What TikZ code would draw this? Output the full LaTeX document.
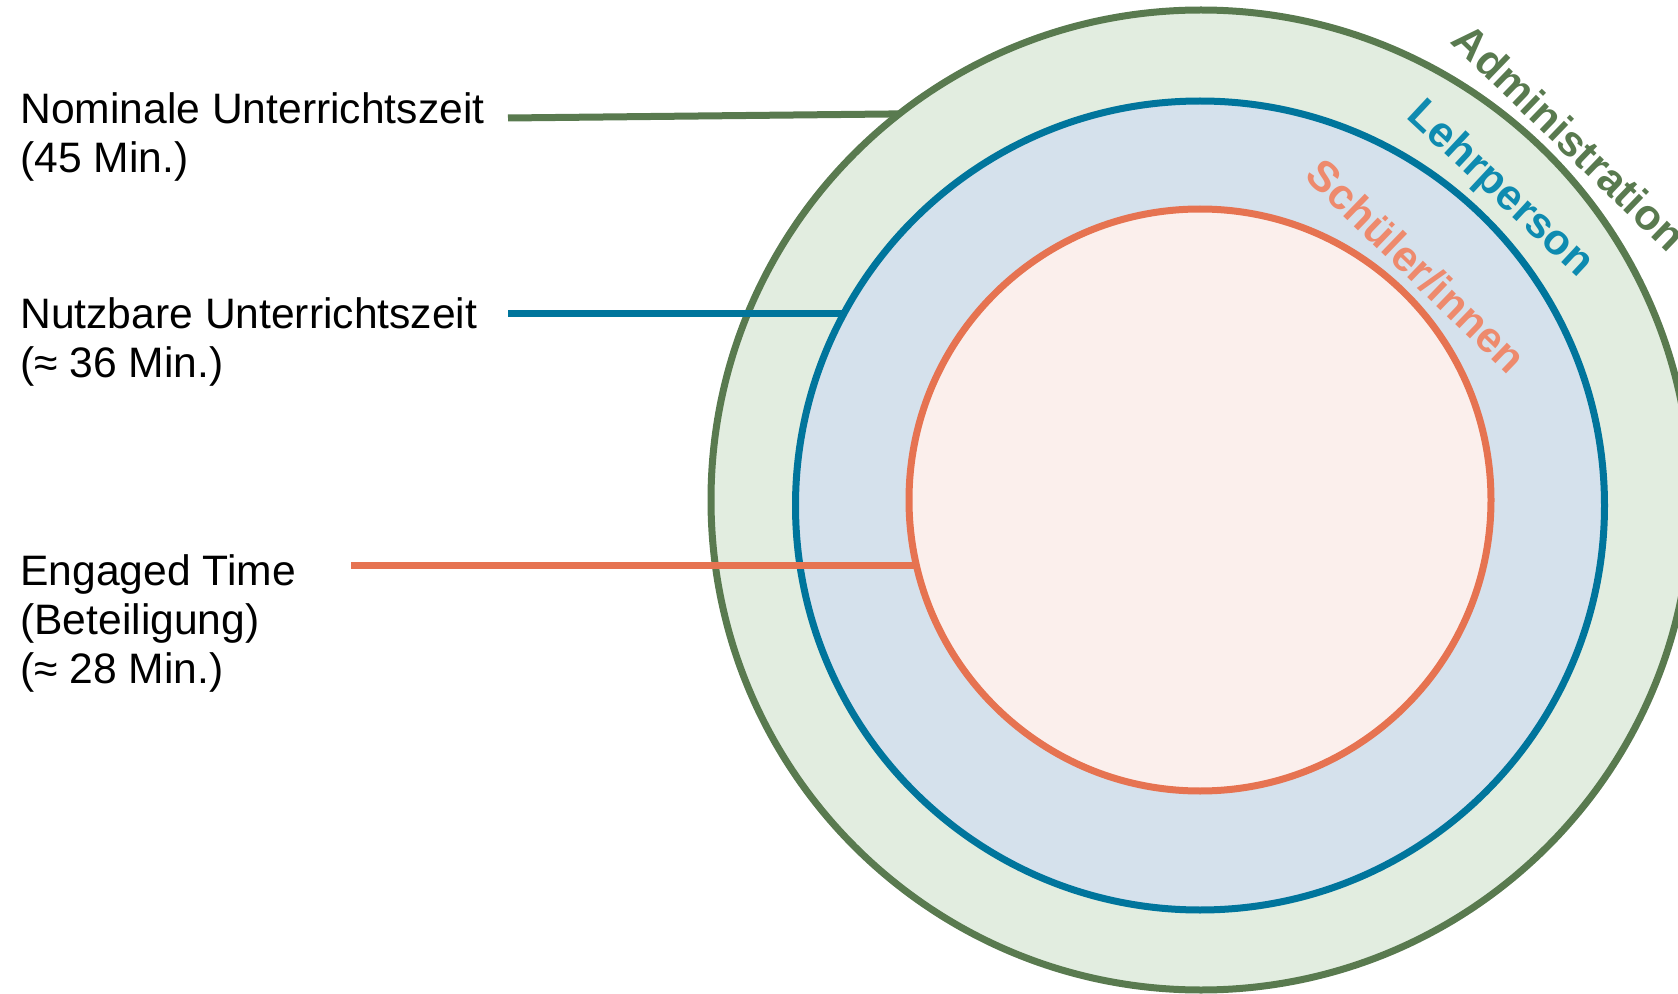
\documentclass[tikz,border=0pt]{standalone}
\usepackage{fontspec}
\setmainfont{Liberation Sans}
\usepackage{xcolor}
\usepackage{tikz}
\definecolor{admline}{RGB}{89,122,79}
\definecolor{admfill}{RGB}{226,237,224}
\definecolor{lehrline}{RGB}{0,117,156}
\definecolor{lehrfill}{RGB}{213,225,236}
\definecolor{lehrtext}{RGB}{14,139,176}
\definecolor{schline}{RGB}{230,115,81}
\definecolor{schfill}{RGB}{251,239,236}
\definecolor{schtext}{RGB}{238,138,109}

\begin{document}
\begin{tikzpicture}[x=0.5pt, y=0.5pt, font=\fontsize{21.3pt}{24.5pt}\selectfont,
  ring/.style={circle, line width=3.5pt, inner sep=0pt, outer sep=0pt},
  lbl/.style={anchor=base west, align=left, inner sep=0pt},
  ringtxt/.style={anchor=base, inner sep=0pt, font=\fontsize{21.5pt}{24.5pt}\selectfont\bfseries},
  conn/.style={line width=3.5pt}]
\useasboundingbox (0,0) rectangle (1678,993);
\node[ring, draw=admline, fill=admfill, minimum size=490pt] (admin) at (1201,493) {};
\node[ring, draw=lehrline, fill=lehrfill, minimum size=404.5pt] (lehr) at (1200,487.5) {};
\node[ring, draw=schline, fill=schfill, minimum size=291pt] (schuel) at (1200,493) {};
\node[ringtxt, text=admline, rotate=-44] (admtxt) at ([shift={(44.5:502)}]admin.center) {Administration};
\node[ringtxt, text=lehrtext, rotate=-43] (lehrtxt) at ([shift={(46.5:424)}]lehr.center) {Lehrperson};
\node[ringtxt, text=schtext, rotate=-44] (schtxt) at ([shift={(47.3:304)}]schuel.center) {Schüler/innen};
\node[lbl] (nom) at (20,820) {Nominale Unterrichtszeit\\(45 Min.)};
\node[lbl] (nutz) at (20,616) {Nutzbare Unterrichtszeit\\(≈ 36 Min.)};
\node[lbl] (eng) at (20,310) {Engaged Time\\(Beteiligung)\\(≈ 28 Min.)};
\coordinate (nomstart) at (508,875);
\coordinate (nutzstart) at (508,679);
\coordinate (engstart) at (351,428);
\draw[conn, admline] (nomstart) -- (admin.128);
\draw[conn, lehrline] (nutzstart) -- (lehr.151.8 |- nutzstart);
\draw[conn, schline] (engstart) -- (schuel.192.9 |- engstart);
\end{tikzpicture}
\end{document}
